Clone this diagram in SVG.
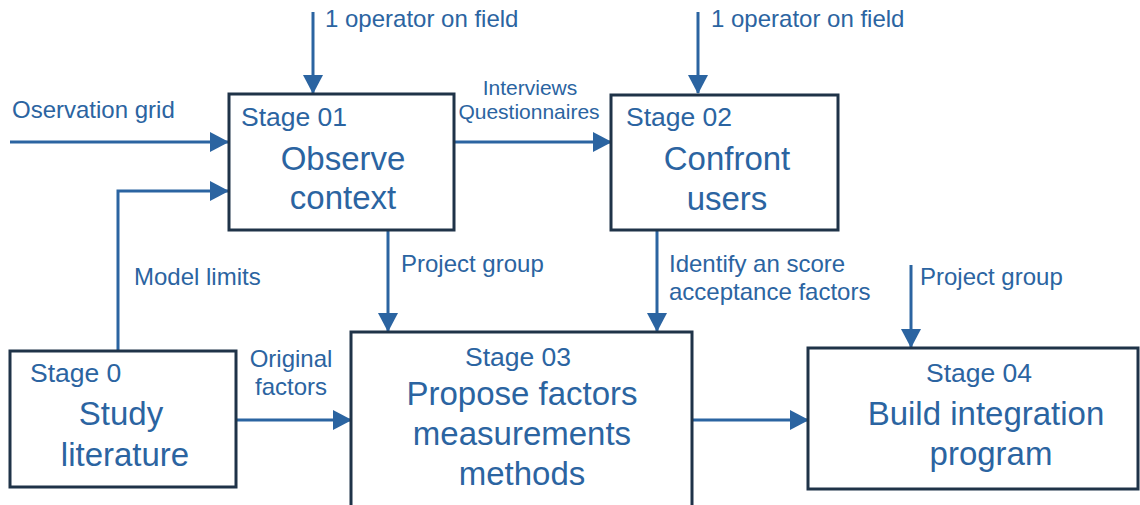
<svg xmlns="http://www.w3.org/2000/svg" width="1140" height="505" viewBox="0 0 1140 505">
<style>
.box{fill:#fff;stroke:#1f3348;stroke-width:3}
.c{fill:none;stroke:#2b64a1;stroke-width:3}
text{font-family:"Liberation Sans",Arial,sans-serif;fill:#2b64a1}
.lbl{font-size:24px}
.lbs{font-size:21px}
.stg{font-size:26.5px}
.ttl{font-size:33px;text-anchor:middle}
.mid{text-anchor:middle}
</style>
<defs>
<marker id="ah" markerUnits="userSpaceOnUse" markerWidth="19" markerHeight="20" refX="18" refY="10" orient="auto">
<path d="M0,0 L19,10 L0,20 Z" fill="#2b64a1"/>
</marker>
</defs>
<g id="connectors">
<line class="c" x1="313" y1="12" x2="313" y2="93" marker-end="url(#ah)"/>
<line class="c" x1="698" y1="12" x2="698" y2="93" marker-end="url(#ah)"/>
<line class="c" x1="10" y1="142" x2="228" y2="142" marker-end="url(#ah)"/>
<polyline class="c" points="118,351 118,191 228,191" marker-end="url(#ah)"/>
<line class="c" x1="454" y1="142" x2="611" y2="142" marker-end="url(#ah)"/>
<line class="c" x1="388" y1="230" x2="388" y2="331" marker-end="url(#ah)"/>
<line class="c" x1="657" y1="230" x2="657" y2="331" marker-end="url(#ah)"/>
<line class="c" x1="911" y1="265" x2="911" y2="347" marker-end="url(#ah)"/>
<line class="c" x1="236" y1="420" x2="351" y2="420" marker-end="url(#ah)"/>
<line class="c" x1="692" y1="420" x2="808" y2="420" marker-end="url(#ah)"/>
<text class="lbl" x="325" y="27">1 operator on field</text>
<text class="lbl" x="711" y="27">1 operator on field</text>
<text class="lbl" x="12" y="118">Oservation grid</text>
<text class="lbs mid" x="530" y="95">Interviews</text>
<text class="lbs mid" x="529" y="119">Questionnaires</text>
<text class="lbl" x="134" y="285">Model limits</text>
<text class="lbl" x="401" y="272">Project group</text>
<text class="lbl" x="669" y="272">Identify an score</text>
<text class="lbl" x="669" y="300">acceptance factors</text>
<text class="lbl" x="920" y="285">Project group</text>
<text class="lbl mid" x="291" y="367">Original</text>
<text class="lbl mid" x="291" y="395">factors</text>
</g>
<g id="stage01">
<rect class="box" x="229" y="94" width="225" height="136"/>
<text class="stg" x="241" y="126">Stage 01</text>
<text class="ttl" x="343" y="170">Observe</text>
<text class="ttl" x="343" y="209">context</text>
</g>
<g id="stage02">
<rect class="box" x="611" y="95" width="227" height="135"/>
<text class="stg" x="626" y="126">Stage 02</text>
<text class="ttl" x="727" y="170">Confront</text>
<text class="ttl" x="727" y="210">users</text>
</g>
<g id="stage0">
<rect class="box" x="10" y="351" width="226" height="136"/>
<text class="stg" x="30" y="382">Stage 0</text>
<text class="ttl" x="121" y="425">Study</text>
<text class="ttl" x="125" y="466">literature</text>
</g>
<g id="stage03">
<rect class="box" x="351" y="332" width="341" height="190"/>
<text class="stg mid" x="518" y="366">Stage 03</text>
<text class="ttl" x="522" y="405">Propose factors</text>
<text class="ttl" x="522" y="445">measurements</text>
<text class="ttl" x="522" y="485">methods</text>
</g>
<g id="stage04">
<rect class="box" x="808" y="348" width="330" height="141"/>
<text class="stg mid" x="979" y="382">Stage 04</text>
<text class="ttl" x="986" y="425">Build integration</text>
<text class="ttl" x="991" y="465">program</text>
</g>
</svg>
